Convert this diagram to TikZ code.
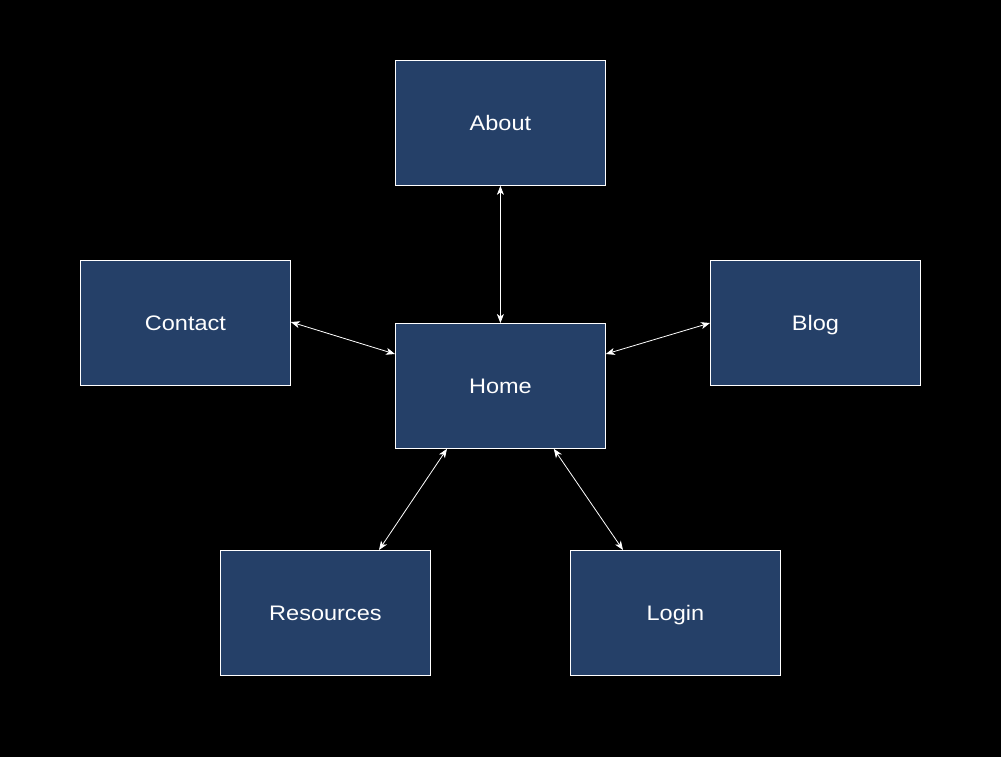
\documentclass[tikz,border=0pt]{standalone}
\usepackage{fontspec}
\setmainfont{Liberation Sans}[FakeStretch=1.12]
\usetikzlibrary{arrows.meta}
\definecolor{boxfill}{RGB}{37,64,104}
\tikzset{
  page/.style={x=1pt,y=-1pt},
  pagebox/.style={draw=white,line width=0.8pt,fill=boxfill,minimum width=210pt,minimum height=125pt,inner sep=0pt,text height=17pt,text depth=2.5pt,anchor=north west,text=white,font=\fontsize{21}{24}\selectfont},
  link/.style={draw=white,line width=0.8pt,{Stealth[length=9pt,width=7pt,inset=2.5pt]}-{Stealth[length=9pt,width=7pt,inset=2.5pt]}}
}
\begin{document}
\begin{tikzpicture}[page]
\useasboundingbox (0,0) rectangle (1001,756);
\fill[black] (-5,-5) rectangle (1006,761);
\node[pagebox] (about) at (395,60) {About};
\node[pagebox] (contact) at (80,260) {Contact};
\node[pagebox] (blog) at (710,260) {Blog};
\node[pagebox] (home) at (395,323) {Home};
\node[pagebox] (resources) at (220,550) {Resources};
\node[pagebox] (login) at (570,550) {Login};
\draw[link] (about.south) -- (home.north);
\draw[link] ([yshift=-62pt]contact.north east) -- ([yshift=-31pt]home.north west);
\draw[link] ([yshift=-63pt]blog.north west) -- ([yshift=-31pt]home.north east);
\draw[link] ([xshift=52pt]home.south west) -- ([xshift=159pt]resources.north west);
\draw[link] ([xshift=-52pt]home.south east) -- ([xshift=53pt]login.north west);
\end{tikzpicture}
\end{document}
